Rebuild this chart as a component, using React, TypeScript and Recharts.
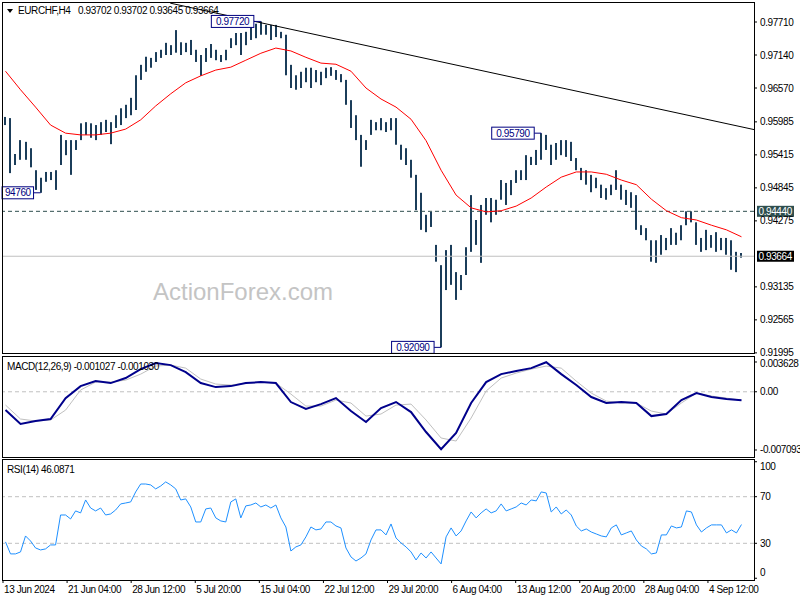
import React from 'react'
import {
  ComposedChart,
  Bar,
  Line,
  XAxis,
  YAxis,
  ReferenceLine,
  ReferenceDot,
} from 'recharts'

// EURCHF H4, one sample per 2.5 bars; highs / lows in price * 10000
const HIGHS = [
  9607, 9605, 9543, 9567, 9564, 9553, 9515, 9502, 9512, 9512,
  9515, 9576, 9567, 9567, 9567, 9596, 9598, 9596, 9593, 9598,
  9602, 9598, 9610, 9622, 9628, 9640, 9679, 9697, 9711, 9709,
  9719, 9723, 9735, 9731, 9757, 9736, 9735, 9740, 9723, 9714,
  9726, 9733, 9723, 9714, 9723, 9743, 9752, 9752, 9754, 9766,
  9768, 9772, 9766, 9766, 9766, 9754, 9749, 9697, 9679, 9685,
  9692, 9692, 9688, 9685, 9692, 9693, 9688, 9681, 9671, 9636,
  9610, 9576, 9567, 9602, 9598, 9605, 9598, 9605, 9605, 9559,
  9553, 9533, 9507, 9476, 9438, 9443, 9386, 9351, 9377, 9386,
  9339, 9334, 9382, 9472, 9429, 9455, 9467, 9467, 9464, 9498,
  9493, 9498, 9515, 9515, 9541, 9538, 9550, 9579, 9576, 9559,
  9562, 9567, 9567, 9564, 9536, 9519, 9515, 9507, 9502, 9490,
  9484, 9490, 9515, 9490, 9481, 9477, 9472, 9420, 9415, 9394,
  9394, 9403, 9398, 9415, 9407, 9420, 9444, 9444, 9425, 9398,
  9412, 9403, 9408, 9398, 9398, 9394, 9374, 9372,
]
const LOWS = [
  9593, 9510, 9524, 9533, 9533, 9520, 9481, 9476, 9495, 9498,
  9481, 9524, 9541, 9507, 9550, 9567, 9576, 9571, 9567, 9576,
  9581, 9560, 9588, 9593, 9605, 9610, 9619, 9671, 9685, 9692,
  9702, 9709, 9714, 9714, 9718, 9714, 9719, 9714, 9702, 9678,
  9702, 9709, 9705, 9702, 9705, 9726, 9731, 9714, 9731, 9740,
  9743, 9749, 9749, 9740, 9745, 9743, 9679, 9657, 9654, 9657,
  9667, 9657, 9667, 9662, 9674, 9678, 9671, 9667, 9628, 9588,
  9567, 9521, 9550, 9576, 9584, 9584, 9581, 9584, 9559, 9533,
  9524, 9502, 9446, 9412, 9408, 9417, 9357, 9209, 9308, 9317,
  9291, 9308, 9334, 9374, 9386, 9355, 9438, 9425, 9438, 9464,
  9455, 9472, 9493, 9498, 9498, 9524, 9524, 9533, 9550, 9524,
  9533, 9541, 9538, 9531, 9515, 9498, 9490, 9477, 9484, 9467,
  9464, 9472, 9481, 9464, 9455, 9450, 9412, 9403, 9394, 9357,
  9355, 9369, 9377, 9386, 9386, 9394, 9420, 9425, 9386, 9374,
  9377, 9381, 9374, 9377, 9369, 9343, 9339, 9364,
]

// moving average (red), one reading every 3rd sample, price * 10000
const MA = [
  9686, 9654, 9624, 9593, 9579, 9576, 9576, 9579, 9586, 9602,
  9626, 9647, 9666, 9678, 9688, 9693, 9705, 9717, 9726, 9721,
  9710, 9700, 9698, 9686, 9657, 9638, 9624, 9603, 9566, 9515,
  9472, 9450, 9443, 9445, 9453, 9467, 9486, 9503, 9512, 9512,
  9508, 9498, 9490, 9465, 9445, 9433, 9429, 9420, 9412, 9400,
]

// MACD(12,26,9), same spacing as the MA
const MACD_MAIN = [
  -0.00223, -0.00393, -0.00356, -0.00332, -0.00077, 0.00069, 0.0013, 0.00106, 0.00167, 0.00276,
  0.00349, 0.00325, 0.0024, 0.00106, 0.00057, 0.00069, 0.00106, 0.00118, 0.00106, -0.00125,
  -0.0021, -0.0015, -0.00077, -0.00235, -0.00369, -0.00198, -0.00125, -0.00247, -0.0049, -0.007,
  -0.00502, -0.00137, 0.00118, 0.00215, 0.00252, 0.00288, 0.0036, 0.00215, 0.00082, -0.00064,
  -0.00137, -0.00125, -0.00137, -0.00296, -0.00271, -0.00101, -0.00016, -0.00064, -0.00089, -0.00103,
]
const MACD_SIGNAL = [
  -0.00162, -0.00332, -0.00356, -0.00344, -0.00223, 0.00021, 0.00118, 0.00118, 0.00142, 0.00215,
  0.00313, 0.00325, 0.00288, 0.00155, 0.00094, 0.00082, 0.00106, 0.00118, 0.00106, -0.00028,
  -0.00174, -0.00174, -0.00101, -0.00137, -0.00296, -0.00271, -0.00162, -0.0015, -0.00344, -0.00563,
  -0.006, -0.0032, 0.00009, 0.00167, 0.00228, 0.00276, 0.00313, 0.00288, 0.0013, -0.00016,
  -0.00113, -0.00137, -0.00137, -0.00235, -0.00271, -0.00137, -0.00016, -0.00052, -0.00077, -0.00103,
]

// RSI(14), one reading per sample
const RSI = [
  31.2, 20.9, 20.9, 22.6, 36.3, 32.0, 26.0, 24.3, 25.2, 28.6,
  28.6, 54.3, 54.3, 50.9, 57.8, 56.1, 67.2, 60.3, 57.8, 60.3,
  54.3, 55.2, 58.6, 63.8, 64.6, 65.5, 74.1, 80.9, 80.9, 80.1,
  76.7, 79.2, 82.7, 80.1, 76.7, 67.2, 68.1, 61.2, 48.3, 48.3,
  59.5, 60.3, 51.8, 49.2, 48.3, 65.5, 68.1, 51.8, 62.1, 62.9,
  64.6, 61.2, 62.9, 60.3, 62.9, 51.8, 44.0, 23.4, 26.9, 28.6,
  35.5, 44.0, 41.5, 42.3, 48.3, 48.3, 44.9, 43.2, 26.0, 18.3,
  14.8, 17.4, 20.9, 32.9, 41.5, 41.5, 37.2, 46.6, 34.6, 30.3,
  26.9, 22.6, 15.7, 21.7, 17.4, 22.6, 17.4, 12.3, 35.5, 43.2,
  36.3, 40.6, 49.2, 56.9, 51.8, 56.1, 59.5, 56.1, 57.8, 63.8,
  57.8, 59.5, 61.2, 64.6, 62.9, 67.2, 66.4, 74.1, 73.2, 56.9,
  61.2, 55.2, 58.6, 54.3, 44.9, 40.6, 42.3, 39.7, 38.0, 36.3,
  35.5, 43.2, 45.8, 37.2, 38.9, 40.6, 32.9, 27.7, 25.2, 20.9,
  21.7, 37.2, 37.2, 44.9, 43.2, 44.0, 57.8, 56.9, 45.8, 39.7,
  43.2, 45.8, 45.8, 45.8, 38.9, 41.5, 38.9, 46.1,
]

const DATE_LABELS = [
  '13 Jun 2024', '21 Jun 04:00', '28 Jun 12:00', '5 Jul 20:00',
  '15 Jul 04:00', '22 Jul 12:00', '29 Jul 20:00', '6 Aug 04:00',
  '13 Aug 12:00', '20 Aug 20:00', '28 Aug 04:00', '4 Sep 12:00',
]
const PRICE_TICKS = [0.9771, 0.9714, 0.9657, 0.95985, 0.95415, 0.94845, 0.94275, 0.93135, 0.92565, 0.91995]
const MACD_TICKS = [0.003628, 0, -0.007093]
const RSI_TICKS = [100, 70, 30, 0]
const RSI_LEVELS = [70, 30]

const TREND_START = { t: 33.4, p: 0.98036 }
const TREND_END = { t: 150, p: 0.95852 }

const SWINGS = [
  { bar: 51, price: 0.9772, text: '0.97720' },
  { bar: 7, price: 0.9476, text: '94760' },
  { bar: 107, price: 0.9579, text: '0.95790' },
  { bar: 87, price: 0.9209, text: '0.92090' },
]

const RESISTANCE = 0.9444
const LAST_PRICE = 0.93664

const bars = HIGHS.map((h, i) => ({ t: i + 0.5, range: [LOWS[i] / 10000, h / 10000] }))
const maData = MA.map((v, j) => ({ t: j * 3 + 0.5, ma: v / 10000 }))
const trendData = [TREND_START, TREND_END]
const macdData = MACD_MAIN.map((v, j) => ({ t: j * 3 + 0.5, macd: v, signal: MACD_SIGNAL[j] }))
const rsiData = RSI.map((v, k) => ({ t: k + 0.5, rsi: v }))
const dateTicks = DATE_LABELS.map((_, i) => i * 12.8)

const X_DOMAIN = [0, 150]
const FONT = "'Liberation Sans', Arial, sans-serif"
const txt = { fontFamily: FONT, fontSize: 10, letterSpacing: -0.4 }

const PriceBar = ({ x, y, width, height }: any) => {
  const cx = Math.round(x + width / 2)
  return <rect x={cx - 1} y={y} width={2} height={Math.max(Math.abs(height), 1)} fill="#1b3d5a" />
}

const PriceTick = ({ x, y, payload }: any) => (
  <text x={x} y={y + 3.5} textAnchor="start" fill="#000" style={txt}>
    {payload.value.toFixed(5)}
  </text>
)

const MacdTick = ({ x, y, payload }: any) => {
  const shift = payload.value > 0 ? 2 : 0
  return (
    <text x={x} y={y + 3.5 + shift} textAnchor="start" fill="#000" style={txt}>
      {payload.value === 0 ? '0.00' : payload.value.toFixed(6)}
    </text>
  )
}

const RsiTick = ({ x, y, payload }: any) => {
  const shift = payload.value === 100 ? 5 : payload.value === 0 ? -5.5 : 0
  return (
    <text x={x} y={y + 3.5 + shift} textAnchor="start" fill="#000" style={txt}>
      {payload.value}
    </text>
  )
}

const DateTick = ({ x, y, payload }: any) => (
  <g>
    <line x1={x} y1={y} x2={x} y2={y + 3} stroke="#000" />
    <text x={x + 1} y={y + 12.5} textAnchor="start" fill="#000" style={txt}>
      {DATE_LABELS[Math.round(payload.value / 12.8)]}
    </text>
  </g>
)

const AxisFlag = ({ viewBox, text, bg }: any) => {
  if (!viewBox) return null
  const x = viewBox.x + viewBox.width + 3
  return (
    <g>
      <rect x={x} y={viewBox.y - 5.5} width={37} height={11} fill={bg} />
      <text x={x + 1.5} y={viewBox.y + 3.5} fill="#fff" style={txt}>{text}</text>
    </g>
  )
}

const SwingBox = ({ cx, cy, text }: any) => {
  const w = text.length * 5.5 + 4
  const right = cx - 7
  const left = right - w
  return (
    <g>
      <line x1={right} y1={cy} x2={cx} y2={cy} stroke="#000080" />
      <rect x={left} y={cy - 6} width={w} height={12} fill="#fff" stroke="#000080" />
      <text x={left + w / 2} y={cy + 3.5} textAnchor="middle" fill="#000080" style={txt}>{text}</text>
    </g>
  )
}

const frame = (top: number, height: number): React.CSSProperties => ({
  position: 'absolute',
  left: 2,
  top,
  width: 753,
  height,
  border: '1px solid #000',
  boxSizing: 'border-box',
  pointerEvents: 'none',
})

export default function App() {
  return (
    <div style={{ position: 'absolute', left: 0, top: 0, width: 800, height: 600, background: '#fff', overflow: 'hidden' }}>
      <svg width={800} height={600} style={{ position: 'absolute', left: 0, top: 0 }}>
        <text x={153} y={300} fill="#c4c4c4" style={{ fontFamily: FONT, fontSize: 24 }}>ActionForex.com</text>
      </svg>

      {/* price panel */}
      <div style={{ position: 'absolute', left: 0, top: 0 }}>
        <ComposedChart width={800} height={357} data={bars} margin={{ top: 3, right: 0, bottom: 4, left: 3 }}>
          <XAxis type="number" dataKey="t" domain={X_DOMAIN} allowDataOverflow hide />
          <YAxis
            orientation="right"
            width={46}
            domain={[0.919928, 0.980382]}
            allowDataOverflow
            ticks={PRICE_TICKS}
            interval={0}
            axisLine={false}
            tickLine={{ stroke: '#000' }}
            tickSize={3}
            tickMargin={3}
            tick={<PriceTick />}
          />
          <ReferenceLine y={LAST_PRICE} stroke="#c0c0c0" label={<AxisFlag text="0.93664" bg="#000" />} />
          <ReferenceLine y={RESISTANCE} stroke="#2f4f4f" strokeDasharray="4 3" label={<AxisFlag text="0.94440" bg="#2f4f4f" />} />
          <Bar dataKey="range" barSize={2} fill="#1b3d5a" shape={<PriceBar />} isAnimationActive={false} />
          <Line data={maData} dataKey="ma" stroke="#ff0000" strokeWidth={1} dot={false} isAnimationActive={false} />
          <Line data={trendData} dataKey="p" stroke="#000" strokeWidth={1} dot={false} isAnimationActive={false} />
          {SWINGS.map(s => (
            <ReferenceDot
              key={s.text}
              x={s.bar + 0.5}
              y={s.price}
              r={0}
              shape={(props: any) => <SwingBox {...props} text={s.text} />}
            />
          ))}
        </ComposedChart>
      </div>

      {/* MACD panel */}
      <div style={{ position: 'absolute', left: 0, top: 357 }}>
        <ComposedChart width={800} height={100} data={macdData} margin={{ top: 0, right: 0, bottom: 0, left: 3 }}>
          <XAxis type="number" dataKey="t" domain={X_DOMAIN} allowDataOverflow hide />
          <YAxis
            orientation="right"
            width={46}
            domain={[-0.007946, 0.004237]}
            allowDataOverflow
            ticks={MACD_TICKS}
            interval={0}
            axisLine={false}
            tickLine={{ stroke: '#000' }}
            tickSize={3}
            tickMargin={3}
            tick={<MacdTick />}
          />
          <ReferenceLine y={0} stroke="#c0c0c0" strokeDasharray="4 3" />
          <Line dataKey="signal" stroke="#c0c0c0" strokeWidth={1} dot={false} isAnimationActive={false} />
          <Line dataKey="macd" stroke="#00008b" strokeWidth={2} dot={false} isAnimationActive={false} />
        </ComposedChart>
      </div>

      {/* RSI panel */}
      <div style={{ position: 'absolute', left: 0, top: 460 }}>
        <ComposedChart width={800} height={140} data={rsiData} margin={{ top: 0, right: 0, bottom: 0, left: 3 }}>
          <XAxis
            type="number"
            dataKey="t"
            domain={X_DOMAIN}
            allowDataOverflow
            ticks={dateTicks}
            interval={0}
            height={20}
            axisLine={false}
            tickLine={false}
            tickSize={0}
            tickMargin={0}
            tick={<DateTick />}
          />
          <YAxis
            orientation="right"
            width={46}
            domain={[-1.5, 101.5]}
            allowDataOverflow
            ticks={RSI_TICKS}
            interval={0}
            axisLine={false}
            tickLine={{ stroke: '#000' }}
            tickSize={3}
            tickMargin={3}
            tick={<RsiTick />}
          />
          {RSI_LEVELS.map(l => (
            <ReferenceLine key={l} y={l} stroke="#c0c0c0" strokeDasharray="4 3" />
          ))}
          <Line dataKey="rsi" type="linear" stroke="#1e90ff" strokeWidth={1} dot={false} isAnimationActive={false} />
        </ComposedChart>
      </div>

      <div style={frame(2, 352)} />
      <div style={frame(356, 102)} />
      <div style={frame(459, 122)} />

      <svg width={800} height={600} style={{ position: 'absolute', left: 0, top: 0, pointerEvents: 'none' }}>
        <polygon points="7,9 13,9 10,13" fill="#000" />
        <text x={18} y={14} fill="#000" style={txt}>EURCHF,H4</text>
        <text x={78} y={14} fill="#000" style={txt}>0.93702 0.93702 0.93645 0.93664</text>
        <text x={7} y={369.5} fill="#000" style={txt}>MACD(12,26,9) -0.001027 -0.001030</text>
        <text x={7} y={472.5} fill="#000" style={txt}>RSI(14) 46.0871</text>
      </svg>
    </div>
  )
}
